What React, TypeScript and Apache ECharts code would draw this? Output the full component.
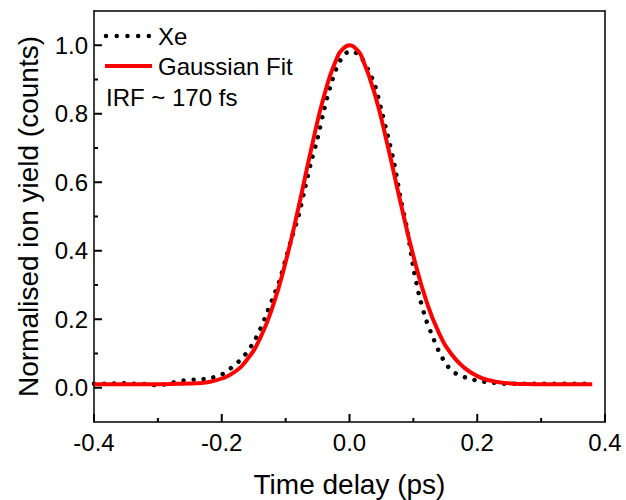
import React, { useEffect, useRef } from "react";
import * as echarts from "echarts";

const FONT = "'Liberation Sans', Arial, Helvetica, sans-serif";

// Xe measured data (time delay in ps, normalised yield)
const xeTime = [
  -0.4, -0.38, -0.36, -0.34, -0.32, -0.3, -0.28, -0.26, -0.24, -0.22, -0.2, -0.19, -0.18, -0.17, -0.16,
  -0.15, -0.14, -0.13, -0.12, -0.11, -0.1, -0.09, -0.08, -0.07, -0.06, -0.05, -0.04, -0.03, -0.02, -0.01,
  0.0, 0.01, 0.02, 0.03, 0.04, 0.05, 0.06, 0.07, 0.08, 0.09, 0.1, 0.11, 0.12, 0.13, 0.14, 0.15, 0.16,
  0.17, 0.18, 0.19, 0.2, 0.22, 0.24, 0.26, 0.28, 0.3, 0.32, 0.34, 0.36, 0.38,
];
const xeYield = [
  0.012, 0.012, 0.013, 0.012, 0.011, 0.007, 0.014, 0.021, 0.024, 0.027, 0.039, 0.05, 0.067, 0.082, 0.105,
  0.133, 0.17, 0.215, 0.262, 0.31, 0.375, 0.44, 0.5, 0.58, 0.66, 0.728, 0.81, 0.88, 0.935, 0.968,
  0.982, 0.978, 0.96, 0.925, 0.882, 0.81, 0.735, 0.655, 0.553, 0.465, 0.35, 0.262, 0.198, 0.15, 0.106, 0.073, 0.05,
  0.038, 0.031, 0.027, 0.02, 0.016, 0.012, 0.012, 0.012, 0.012, 0.012, 0.012, 0.012, 0.012,
];

// Gaussian fit curve
const fitTime = [
  -0.4, -0.38, -0.36, -0.34, -0.32, -0.3, -0.28, -0.26, -0.24, -0.22, -0.2, -0.18, -0.16, -0.14, -0.12,
  -0.1, -0.08, -0.06, -0.04, -0.02, -0.01, 0.0, 0.01, 0.02, 0.04, 0.06, 0.08, 0.1, 0.12, 0.14, 0.16, 0.18, 0.2, 0.22,
  0.24, 0.26, 0.28, 0.3, 0.32, 0.34, 0.36, 0.38,
];
const fitYield = [
  0.01, 0.01, 0.01, 0.01, 0.01, 0.01, 0.011, 0.012, 0.013, 0.017, 0.027, 0.046, 0.083, 0.144, 0.238,
  0.367, 0.525, 0.696, 0.851, 0.961, 0.99, 1.0, 0.99, 0.962, 0.855, 0.705, 0.54, 0.385, 0.255, 0.16, 0.097, 0.058, 0.034, 0.021,
  0.015, 0.012, 0.011, 0.01, 0.01, 0.01, 0.01, 0.01,
];

// axis ranges and tick values
const xRange = [-0.4, 0.4];
const yRange = [-0.1, 1.1];
const xMajorTicks = [-0.4, -0.2, 0, 0.2, 0.4];
const xMinorTicks = [-0.3, -0.1, 0.1, 0.3];
const yMajorTicks = [0, 0.2, 0.4, 0.6, 0.8, 1.0];
const yMinorTicks = [0.1, 0.3, 0.5, 0.7, 0.9];

const legendLabels = ["Xe", "Gaussian Fit"];
const noteText = "IRF ~ 170 fs";

const MAJOR_LEN = 8;
const MINOR_LEN = 4;

export default function App() {
  const ref = useRef<HTMLDivElement>(null);
  useEffect(() => {
    if (!ref.current) return;
    const chart = echarts.init(ref.current, undefined, { renderer: "svg" });
    const axisCol = "#000";
    const lineW = 1.5;
    const tickW = 2;
    const axisLineStyle = { color: axisCol, width: lineW };

    // inward tick marks, positioned through the chart's own scales
    const xTickData = [
      ...xMajorTicks.map((v) => [v, yRange[0], MAJOR_LEN]),
      ...xMinorTicks.map((v) => [v, yRange[0], MINOR_LEN]),
    ];
    const yTickData = [
      ...yMajorTicks.map((v) => [xRange[0], v, MAJOR_LEN]),
      ...yMinorTicks.map((v) => [xRange[0], v, MINOR_LEN]),
    ];

    const option: any = {
      animation: false,
      backgroundColor: "#fff",
      grid: {
        left: 94,
        right: 21,
        top: 11,
        bottom: 78,
        show: false,
        outerBoundsMode: "none",
        containLabel: false,
      },
      xAxis: [
        {
          type: "value",
          min: xRange[0],
          max: xRange[1],
          interval: 0.2,
          position: "bottom",
          name: "Time delay (ps)",
          nameLocation: "middle",
          nameGap: 48,
          nameTextStyle: { fontSize: 28, color: "#000", fontFamily: FONT },
          axisLine: { show: true, onZero: false, lineStyle: axisLineStyle },
          axisTick: { show: false },
          axisLabel: {
            fontSize: 24,
            color: "#000",
            fontFamily: FONT,
            margin: 8,
            formatter: (v: number) => v.toFixed(1),
          },
          splitLine: { show: false },
        },
        {
          type: "value",
          min: xRange[0],
          max: xRange[1],
          position: "top",
          axisLine: { show: true, onZero: false, lineStyle: axisLineStyle },
          axisTick: { show: false },
          axisLabel: { show: false },
          splitLine: { show: false },
        },
      ],
      yAxis: [
        {
          type: "value",
          min: yRange[0],
          max: yRange[1],
          position: "left",
          name: "Normalised ion yield (counts)",
          nameLocation: "middle",
          nameGap: 52,
          nameTextStyle: { fontSize: 28, color: "#000", fontFamily: FONT },
          axisLine: { show: true, onZero: false, lineStyle: axisLineStyle },
          axisTick: { show: false },
          axisLabel: {
            customValues: yMajorTicks,
            fontSize: 24,
            color: "#000",
            fontFamily: FONT,
            margin: 6,
            formatter: (v: number) => v.toFixed(1),
          },
          splitLine: { show: false },
        },
        {
          type: "value",
          min: yRange[0],
          max: yRange[1],
          position: "right",
          axisLine: { show: true, onZero: false, lineStyle: axisLineStyle },
          axisTick: { show: false },
          axisLabel: { show: false },
          splitLine: { show: false },
        },
      ],
      series: [
        {
          type: "line",
          name: legendLabels[0],
          xAxisIndex: 0,
          yAxisIndex: 0,
          data: xeTime.map((t, i) => [t, xeYield[i]]),
          showSymbol: false,
          smooth: 0.3,
          lineStyle: { color: "#000", width: 4.5, type: [0.01, 10], cap: "round" },
          z: 2,
        },
        {
          type: "line",
          name: legendLabels[1],
          xAxisIndex: 0,
          yAxisIndex: 0,
          data: fitTime.map((t, i) => [t, fitYield[i]]),
          showSymbol: false,
          smooth: true,
          lineStyle: { color: "#ff0000", width: 4 },
          z: 3,
        },
        {
          type: "custom",
          name: "xTicks",
          xAxisIndex: 0,
          yAxisIndex: 0,
          silent: true,
          clip: false,
          data: xTickData,
          encode: { x: 0, y: 1 },
          renderItem: (params: any, api: any) => {
            const p = api.coord([api.value(0), api.value(1)]);
            const len = api.value(2);
            return {
              type: "line",
              shape: { x1: p[0], y1: p[1], x2: p[0], y2: p[1] - len },
              style: { stroke: axisCol, lineWidth: tickW },
            };
          },
          z: 4,
        },
        {
          type: "custom",
          name: "yTicks",
          xAxisIndex: 0,
          yAxisIndex: 0,
          silent: true,
          clip: false,
          data: yTickData,
          encode: { x: 0, y: 1 },
          renderItem: (params: any, api: any) => {
            const p = api.coord([api.value(0), api.value(1)]);
            const len = api.value(2);
            return {
              type: "line",
              shape: { x1: p[0], y1: p[1], x2: p[0] + len, y2: p[1] },
              style: { stroke: axisCol, lineWidth: tickW },
            };
          },
          z: 4,
        },
      ],
      graphic: [
        {
          type: "line",
          shape: { x1: 106, y1: 36, x2: 150, y2: 36 },
          style: { stroke: "#000", lineWidth: 4.5, lineDash: [0.01, 10.7], lineCap: "round" },
        },
        {
          type: "text",
          x: 158,
          y: 36,
          style: { text: legendLabels[0], fontSize: 24, fill: "#000", fontFamily: FONT, verticalAlign: "middle" },
        },
        {
          type: "line",
          shape: { x1: 105, y1: 66, x2: 152, y2: 66 },
          style: { stroke: "#ff0000", lineWidth: 4 },
        },
        {
          type: "text",
          x: 158,
          y: 66,
          style: { text: legendLabels[1], fontSize: 24, fill: "#000", fontFamily: FONT, verticalAlign: "middle" },
        },
        {
          type: "text",
          x: 106,
          y: 97,
          style: { text: noteText, fontSize: 24, fill: "#000", fontFamily: FONT, verticalAlign: "middle" },
        },
      ],
    };
    chart.setOption(option);
    return () => chart.dispose();
  }, []);
  return (
    <div
      ref={ref}
      style={{ position: "fixed", left: 0, top: 0, width: 626, height: 500, background: "#fff" }}
    />
  );
}
